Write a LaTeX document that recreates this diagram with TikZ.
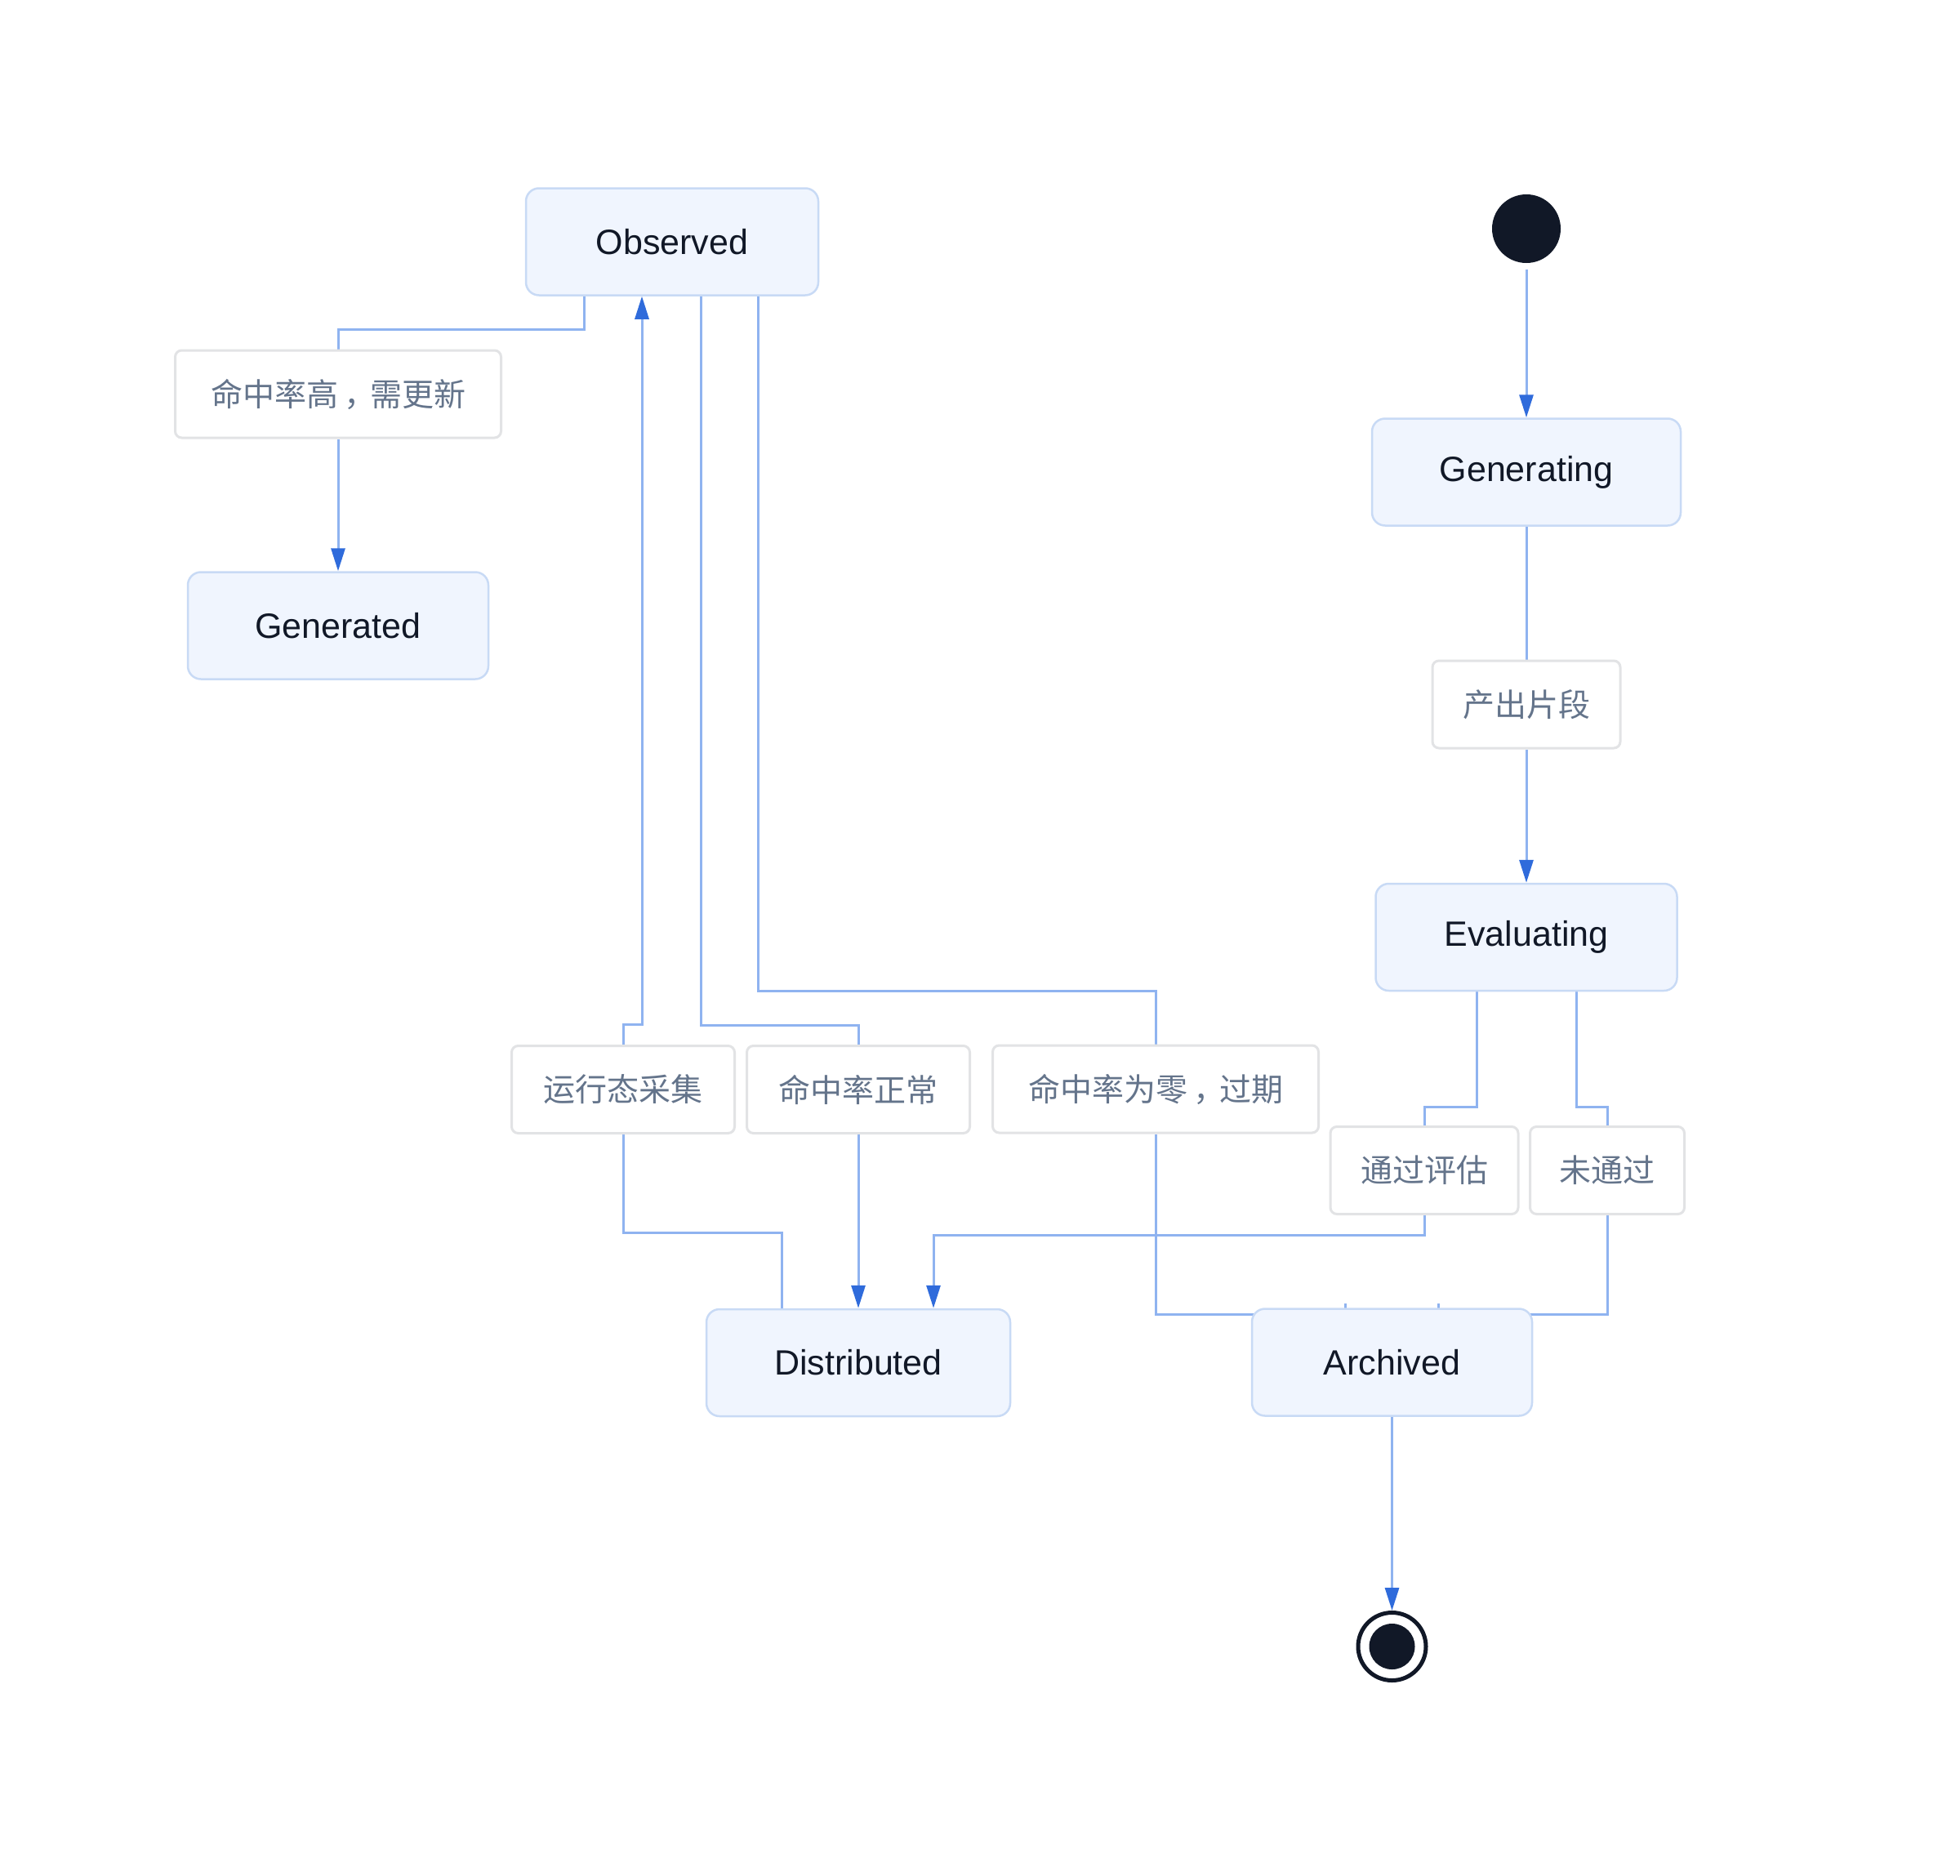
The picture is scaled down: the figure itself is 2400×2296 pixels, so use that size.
\documentclass[tikz,border=0pt]{standalone}
\usepackage{fontspec}
\setmainfont{Liberation Sans}
\newfontfamily\cjk{Noto Sans CJK SC}
\newcommand{\cnComma}{\kern0.2em，\kern-0.2em}
\usetikzlibrary{arrows.meta}
\pgfdeclarelayer{bg}
\pgfsetlayers{bg,main}
\definecolor{edgec}{HTML}{8FB3F0}
\definecolor{arrowc}{HTML}{2F6BDB}
\definecolor{statefill}{HTML}{F0F5FE}
\definecolor{stateborder}{HTML}{C8DAF5}
\definecolor{statetext}{HTML}{111827}
\definecolor{lblborder}{HTML}{E2E3E5}
\definecolor{lbltext}{HTML}{64748B}
\definecolor{dark}{HTML}{111827}
\tikzset{
  state/.style={draw=stateborder, fill=statefill, line width=2.5pt, rounded corners=16pt,
    minimum height=131pt, inner sep=0pt, text=statetext, font=\fontsize{43}{50}\selectfont},
  lbl/.style={draw=lblborder, fill=white, line width=3pt, rounded corners=8pt,
    minimum height=107pt, inner sep=0pt, text=lbltext, font=\cjk\fontsize{39}{45}\selectfont},
  edge/.style={draw=edgec, line width=3pt},
  arr/.style={edge, -{Triangle[length=28pt,width=17pt,color=arrowc]}}
}
\begin{document}
\begin{tikzpicture}[x=1pt,y=-1pt]
\useasboundingbox (0,0) rectangle (2400,2296);

% states
\node[state, minimum width=358pt] (obs) at (823,296) {Observed};
\node[state, minimum width=368pt] (gend) at (414,766) {Generated};
\node[state, minimum width=378pt] (ging) at (1869,578) {Generating};
\node[state, minimum width=369pt] (eval) at (1869,1147.5) {Evaluating};
\node[state, minimum width=372pt] (dist) at (1051,1668.5) {Distributed};
\node[state, minimum width=343pt] (arch) at (1704.5,1668) {Archived};

% start / end
\node[circle, fill=dark, minimum size=84pt, inner sep=0pt] (start) at (1869,280) {};
\node[circle, draw=dark, line width=5pt, minimum size=83pt, inner sep=0pt] (end) at (1704.5,2016) {};
\node[circle, fill=dark, minimum size=56pt, inner sep=0pt] (endin) at (end.center) {};

% labels
\node[lbl, minimum width=399pt] (l1) at (414,482.5) {命中率高\cnComma 需更新};
\node[lbl, minimum width=230pt] (l2) at (1869,862.5) {产出片段};
\node[lbl, minimum width=273pt] (l3) at (763,1334) {运行态采集};
\node[lbl, minimum width=273pt] (l4) at (1051,1334) {命中率正常};
\node[lbl, minimum width=399pt] (l5) at (1415,1333.5) {命中率为零\cnComma 过期};
\node[lbl, minimum width=230pt] (l6) at (1744,1433) {通过评估};
\node[lbl, minimum width=189pt] (l7) at (1968,1433) {未通过};

\begin{pgfonlayer}{bg}
\fill[white] (0,0) rectangle (2400,2296);
% start -> Generating -> Evaluating
\draw[arr] ([yshift=-8pt]start.south) -- (ging.north);
\draw[edge] (ging.south) -- (l2.north);
\draw[arr] (l2.south) -- (eval.north);
% Evaluating -> Distributed (pass)
\draw[edge] ([xshift=-61pt]eval.south) -- ++(0,141) -| (l6.north);
\draw[arr] (l6.south) -- ++(0,24) -| ([xshift=92pt]dist.north);
% Evaluating -> Archived (fail)
\draw[edge] ([xshift=61pt]eval.south) -- ++(0,141) -| (l7.north);
\draw[edge] (l7.south) |- ([xshift=56.5pt,yshift=-8pt]arch.north) -- ([xshift=56.5pt,yshift=5pt]arch.north);
% Observed -> Generated
\draw[edge] ([xshift=-108pt]obs.south) -- ++(0,41) -| (l1.north);
\draw[arr] (l1.south) -- (gend.north);
% Distributed -> Observed
\draw[edge] ([xshift=-94pt]dist.north) -- ++(0,-92) -| (l3.south);
\draw[arr] (l3.north) -- ++(0,-25) -| ([xshift=-37pt]obs.south);
% Observed -> Distributed
\draw[edge] ([xshift=35pt]obs.south) -- ++(0,893) -| (l4.north);
\draw[arr] (l4.south) -- (dist.north);
% Observed -> Archived
\draw[edge] ([xshift=105pt]obs.south) -- ++(0,851) -| (l5.north);
\draw[edge] (l5.south) |- ([xshift=-57.5pt,yshift=-8pt]arch.north) -- ([xshift=-57.5pt,yshift=5pt]arch.north);
% Archived -> end
\draw[arr] (arch.south) -- (end.north);
\end{pgfonlayer}
\end{tikzpicture}
\end{document}
